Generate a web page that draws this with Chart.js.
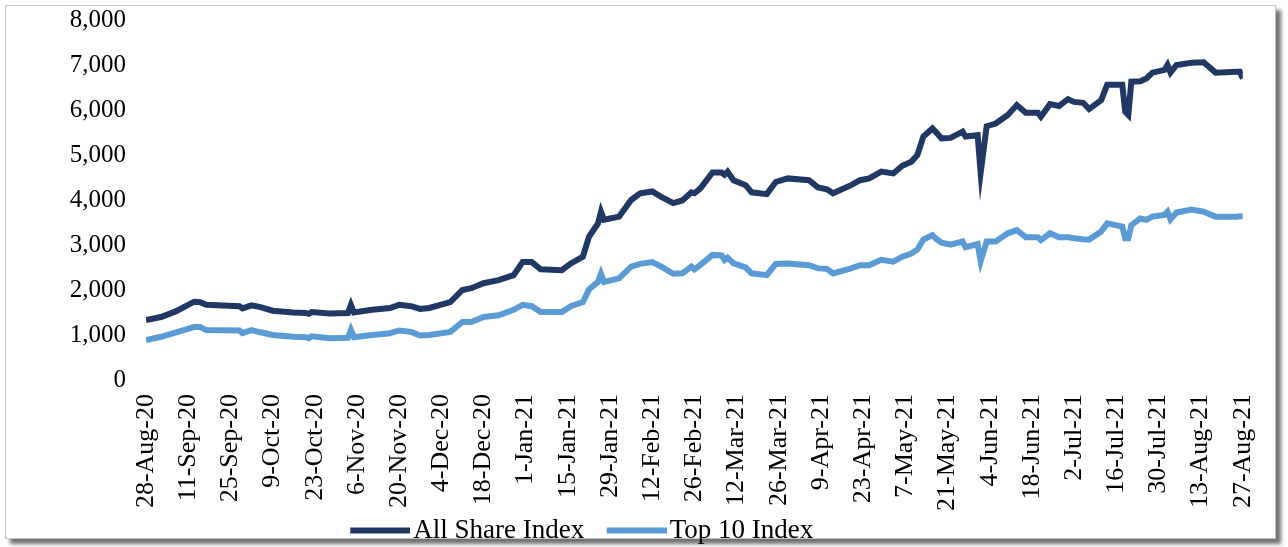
<!DOCTYPE html>
<html>
<head>
<meta charset="utf-8">
<script src="https://cdn.jsdelivr.net/npm/chart.js@4/dist/chart.umd.min.js"></script>
<style>
  html, body { margin: 0; padding: 0; background: #fff; }
  body { width: 1288px; height: 547px; position: relative; overflow: hidden; }
  .frame {
    position: absolute; left: 5px; top: 5px; width: 1269px; height: 532px;
    border: 1px solid #c4c4c4; background: #fff;
    box-shadow: 5px 5px 4px #707070;
  }
  #wrap { position: absolute; left: 0; top: 0; width: 1288px; height: 547px; }
</style>
</head>
<body>
<div class="frame"></div>
<div id="wrap"><canvas id="indexChart"></canvas></div>
<script>
// 축 눈금 라벨 (2주 간격)
const tickLabels = ['28-Aug-20', '11-Sep-20', '25-Sep-20', '9-Oct-20', '23-Oct-20', '6-Nov-20',
    '20-Nov-20', '4-Dec-20', '18-Dec-20', '1-Jan-21', '15-Jan-21', '29-Jan-21', '12-Feb-21',
    '26-Feb-21', '12-Mar-21', '26-Mar-21', '9-Apr-21', '23-Apr-21', '7-May-21', '21-May-21',
    '4-Jun-21', '18-Jun-21', '2-Jul-21', '16-Jul-21', '30-Jul-21', '13-Aug-21', '27-Aug-21'];

// 28-Aug-20 부터 지난 일수
const dayOffsets = [0, 5, 10, 16, 18, 20, 31, 32, 35, 38, 42, 49, 53, 54, 55, 61, 67, 68, 69, 75,
    81, 84, 88, 91, 94, 101, 105, 108, 112, 117, 122, 125, 128, 131, 138, 141, 145, 147, 150, 151,
    152, 157, 161, 164, 168, 171, 175, 178, 181, 182, 184, 188, 191, 192, 193, 195, 199, 201, 206,
    209, 213, 220, 223, 226, 228, 234, 237, 240, 244, 248, 251, 254, 256, 258, 261, 262, 264, 267,
    271, 272, 276, 277, 279, 282, 286, 289, 292, 296, 297, 300, 303, 306, 308, 311, 313, 317, 319,
    324, 325, 326, 327, 330, 332, 334, 338, 339, 340, 342, 347, 351, 355, 362, 363, 364];

const allShareIndex = [1330, 1400, 1530, 1740, 1730, 1670, 1640, 1590, 1660, 1620, 1540, 1500, 1490,
    1470, 1510, 1480, 1490, 1670, 1500, 1560, 1600, 1670, 1640, 1580, 1600, 1730, 2000, 2040, 2150,
    2220, 2330, 2620, 2620, 2460, 2440, 2590, 2740, 3180, 3480, 3740, 3560, 3630, 4000, 4150, 4190,
    4070, 3930, 3990, 4170, 4150, 4260, 4610, 4610, 4560, 4630, 4440, 4330, 4170, 4130, 4400, 4480,
    4440, 4280, 4240, 4150, 4330, 4440, 4480, 4630, 4590, 4760, 4850, 5000, 5410, 5590, 5520, 5370,
    5380, 5520, 5410, 5440, 4610, 5640, 5700, 5890, 6110, 5940, 5940, 5850, 6130, 6090, 6240, 6180,
    6160, 6020, 6220, 6560, 6560, 5960, 5890, 6630, 6640, 6700, 6830, 6890, 7000, 6830, 7000, 7050,
    7060, 6830, 6850, 6850, 6700];

const top10Index = [890, 960, 1060, 1180, 1180, 1110, 1100, 1040, 1110, 1060, 1000, 960, 950, 930,
    970, 930, 940, 1110, 950, 1000, 1040, 1100, 1070, 990, 1000, 1070, 1290, 1290, 1400, 1440, 1560,
    1670, 1640, 1510, 1510, 1640, 1730, 2010, 2180, 2360, 2180, 2260, 2520, 2580, 2620, 2520, 2360,
    2370, 2520, 2460, 2560, 2780, 2770, 2670, 2720, 2590, 2500, 2370, 2330, 2580, 2590, 2550, 2480,
    2470, 2370, 2480, 2550, 2550, 2670, 2630, 2740, 2810, 2900, 3120, 3220, 3150, 3050, 3010, 3080,
    2950, 3020, 2640, 3080, 3080, 3260, 3330, 3170, 3170, 3110, 3260, 3170, 3170, 3150, 3130, 3120,
    3300, 3480, 3410, 3150, 3150, 3440, 3590, 3560, 3630, 3670, 3740, 3570, 3720, 3790, 3740, 3630,
    3630, 3640, 3640];

const serif = "'Liberation Serif', 'Times New Roman', serif";
const darkBlue = '#1f3864';
const lightBlue = '#5b9bd5';

// 범례용 선 이미지 (텍스트에 바짝 붙도록 오른쪽으로 치우침)
function legendLine(color) {
    const c = document.createElement('canvas');
    c.width = 81;
    c.height = 8;
    const ctx = c.getContext('2d');
    ctx.fillStyle = color;
    ctx.fillRect(21, 1, 60, 6);
    return c;
}

// 범례 위치 보정 (왼쪽 + 위로). bottom 은 그대로 두어 글자가 잘리지 않게 함
const legendShift = {
    id: 'legendShift',
    afterLayout(chart) {
        const lg = chart.legend;
        lg.left -= 45;
        lg.right -= 45;
        lg.top -= 12;
    }
};

function toPoints(values) {
    return values.map((v, i) => ({ x: dayOffsets[i], y: v }));
}

new Chart(document.getElementById('indexChart'), {
    type: 'line',
    data: {
        datasets: [{
            label: 'All Share Index',
            data: toPoints(allShareIndex),
            borderColor: darkBlue,
            backgroundColor: darkBlue,
            borderWidth: 6,
            pointRadius: 0,
            pointStyle: legendLine(darkBlue),
            tension: 0
        }, {
            label: 'Top 10 Index',
            data: toPoints(top10Index),
            borderColor: lightBlue,
            backgroundColor: lightBlue,
            borderWidth: 6,
            pointRadius: 0,
            pointStyle: legendLine(lightBlue),
            tension: 0
        }]
    },
    options: {
        responsive: true,
        maintainAspectRatio: false,
        animation: false,
        layout: { padding: { top: 6, right: 45, left: 0, bottom: 0 } },
        plugins: {
            tooltip: { enabled: false },
            legend: {
                position: 'bottom',
                maxHeight: 30,
                labels: {
                    usePointStyle: true,
                    pointStyleWidth: 60,
                    padding: 12,
                    color: '#000',
                    font: { family: serif, size: 27 }
                }
            }
        },
        scales: {
            x: {
                type: 'linear',
                min: 0,
                max: 364,
                grid: { display: false, drawTicks: false },
                border: { display: false },
                afterFit(scale) { scale.height = 137; },
                ticks: {
                    stepSize: 14,
                    autoSkip: false,
                    minRotation: 90,
                    maxRotation: 90,
                    padding: 14,
                    color: '#000',
                    font: { family: serif, size: 26 },
                    callback: (v) => tickLabels[v / 14] ?? ''
                }
            },
            y: {
                min: 0,
                max: 8000,
                grid: { display: false, drawTicks: true, tickLength: 15 },
                border: { display: false },
                afterFit(scale) { scale.width = 146; },
                ticks: {
                    stepSize: 1000,
                    padding: 5,
                    color: '#000',
                    font: { family: serif, size: 25 },
                    callback: (v) => v.toLocaleString('en-US')
                }
            }
        }
    },
    plugins: [legendShift]
});
</script>
</body>
</html>
